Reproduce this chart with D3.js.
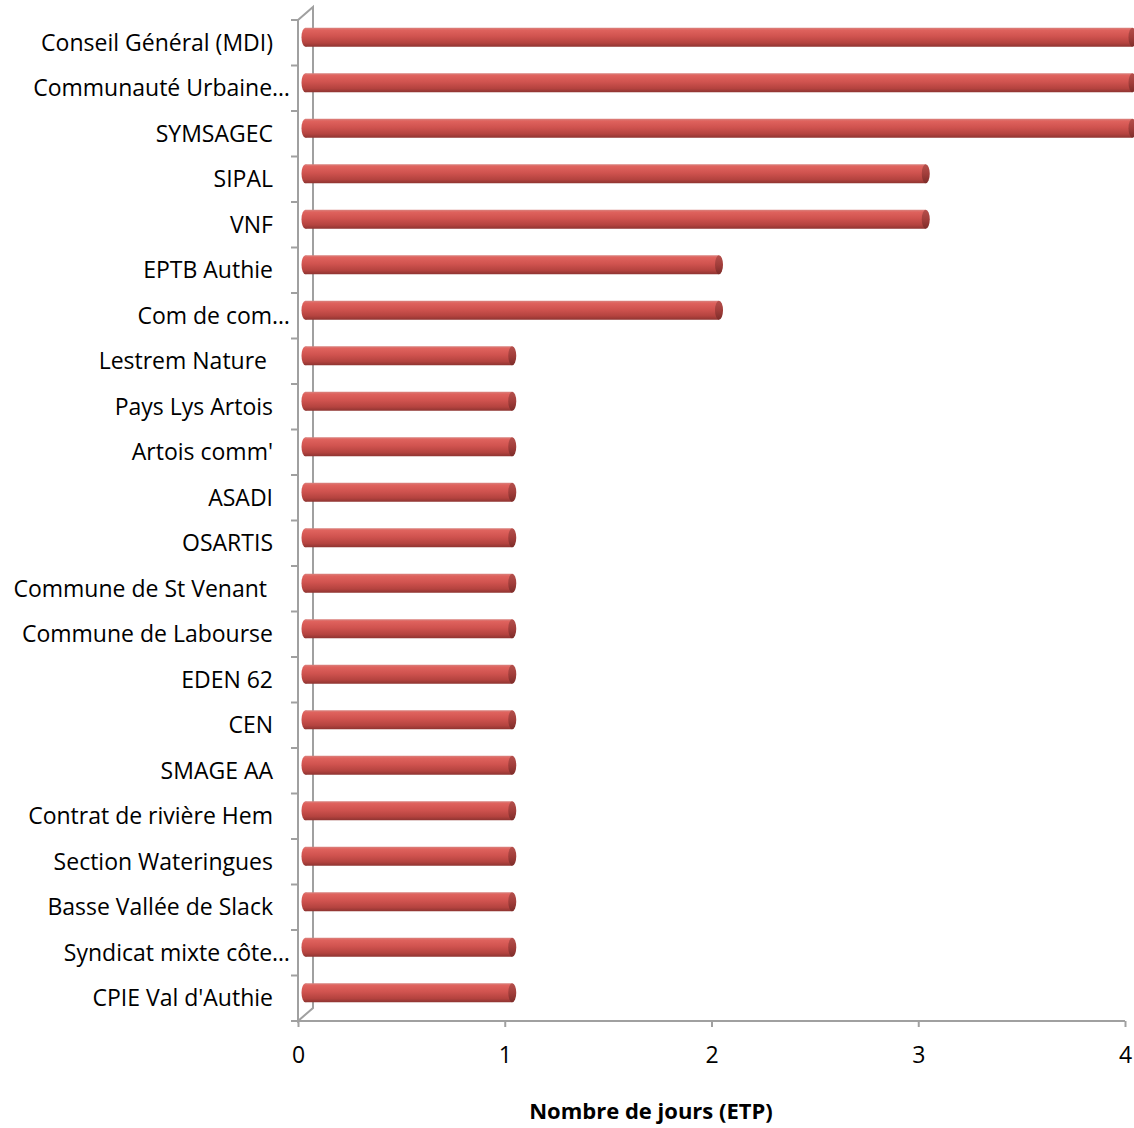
<!DOCTYPE html>
<html>
<head>
<meta charset="utf-8">
<script src="https://cdn.jsdelivr.net/npm/d3@7.9.0/dist/d3.min.js"></script>
<style>
  body { margin: 0; background: #fff; }
  text { font-family: "Open Sans", sans-serif; fill: #000; }
</style>
</head>
<body>
<svg id="chart" width="1134" height="1128"></svg>
<script>
// categories, top to bottom
const categories = [
  "Conseil Général (MDI)", "Communauté Urbaine…", "SYMSAGEC", "SIPAL", "VNF",
  "EPTB Authie", "Com de com…", "Lestrem Nature ", "Pays Lys Artois", "Artois comm'",
  "ASADI", "OSARTIS", "Commune de St Venant ", "Commune de Labourse", "EDEN 62",
  "CEN", "SMAGE AA", "Contrat de rivière Hem", "Section Wateringues",
  "Basse Vallée de Slack", "Syndicat mixte côte…", "CPIE Val d'Authie"
];
const values = [4, 4, 4, 3, 3, 2, 2, 1, 1, 1, 1, 1, 1, 1, 1, 1, 1, 1, 1, 1, 1, 1];
const xTicks = [0, 1, 2, 3, 4];
const xTitle = "Nombre de jours (ETP)";

const svg = d3.select('#chart');
const axisColor = '#a0a0a0';
const labelSize = 23;

const x = d3.scaleLinear().domain([0, 4]).range([298, 1125]);
const y = d3.scaleBand().domain(categories).range([20, 1021]).padding(0);

// 3D depth of the wall
const depthX = 15, depthY = -13;
const barH = 19;

// gradient for the cylinders
const defs = svg.append('defs');
const grad = defs.append('linearGradient').attr('id', 'cyl').attr('x1', 0).attr('y1', 0).attr('x2', 0).attr('y2', 1);
grad.append('stop').attr('offset', '0%').attr('stop-color', '#d9837f');
grad.append('stop').attr('offset', '12%').attr('stop-color', '#df625d');
grad.append('stop').attr('offset', '45%').attr('stop-color', '#d0534f');
grad.append('stop').attr('offset', '80%').attr('stop-color', '#b4433f');
grad.append('stop').attr('offset', '100%').attr('stop-color', '#8e3431');
const capGrad = defs.append('linearGradient').attr('id', 'cap').attr('x1', 0).attr('y1', 0).attr('x2', 0).attr('y2', 1);
capGrad.append('stop').attr('offset', '0%').attr('stop-color', '#b5504c');
capGrad.append('stop').attr('offset', '50%').attr('stop-color', '#a23e3b');
capGrad.append('stop').attr('offset', '100%').attr('stop-color', '#7d2c29');

// wall (left side, drawn in perspective)
const wall = svg.append('g').attr('stroke', axisColor).attr('stroke-width', 2).attr('fill', 'none');
wall.append('path')
  .attr('d', `M${x(0)},${y.range()[0]} L${x(0) + depthX},${y.range()[0] + depthY} L${x(0) + depthX},${y.range()[1] + depthY} L${x(0)},${y.range()[1]} Z`);

// category ticks on the wall
const bounds = categories.map(c => y(c)).concat([y.range()[1]]);
wall.selectAll('line.ytick').data(bounds).join('line')
  .attr('class', 'ytick')
  .attr('x1', x(0) - 7).attr('x2', x(0))
  .attr('y1', d => d).attr('y2', d => d);

// bottom value axis
const xAxis = svg.append('g').attr('transform', `translate(0,${y.range()[1]})`)
  .call(d3.axisBottom(x).tickValues(xTicks).tickSize(6).tickPadding(20).tickFormat(d3.format('d')));
xAxis.select('.domain').attr('stroke', axisColor).attr('stroke-width', 2).attr('d', `M${x(0)},0H${x(4)}`);
xAxis.selectAll('.tick line').attr('stroke', axisColor).attr('stroke-width', 2);
xAxis.selectAll('.tick text').attr('font-size', labelSize).attr('font-family', '"Open Sans", sans-serif').attr('fill', '#000');

// bars (cylinders)
const offX = depthX / 2, offY = depthY / 2 + 1;
const bars = svg.append('g').selectAll('g.bar')
  .data(categories.map((c, i) => ({ c, v: values[i] })))
  .join('g').attr('class', 'bar')
  .attr('transform', d => `translate(${offX},${y(d.c) + y.bandwidth() / 2 + offY})`);

bars.append('ellipse')
  .attr('cx', x(0)).attr('cy', 0).attr('rx', 4).attr('ry', barH / 2)
  .attr('fill', 'url(#cyl)');
bars.append('rect')
  .attr('x', x(0)).attr('y', -barH / 2)
  .attr('width', d => x(d.v) - x(0)).attr('height', barH)
  .attr('fill', 'url(#cyl)');
bars.append('ellipse')
  .attr('cx', d => x(d.v)).attr('cy', 0).attr('rx', 4).attr('ry', barH / 2)
  .attr('fill', 'url(#cap)');

// category labels
svg.append('g').selectAll('text.ylab').data(categories).join('text')
  .attr('class', 'ylab')
  .attr('x', d => d.endsWith('…') ? 290 : 273)
  .attr('y', d => y(d) + y.bandwidth() / 2)
  .attr('dy', '0.35em')
  .attr('text-anchor', 'end')
  .attr('font-size', labelSize)
  .style('white-space', 'pre')
  .text(d => d);

// axis title
svg.append('text')
  .attr('x', 651).attr('y', 1111)
  .attr('dy', '0.35em')
  .attr('text-anchor', 'middle')
  .attr('font-size', 22)
  .attr('font-weight', 'bold')
  .text(xTitle);
</script>
</body>
</html>
